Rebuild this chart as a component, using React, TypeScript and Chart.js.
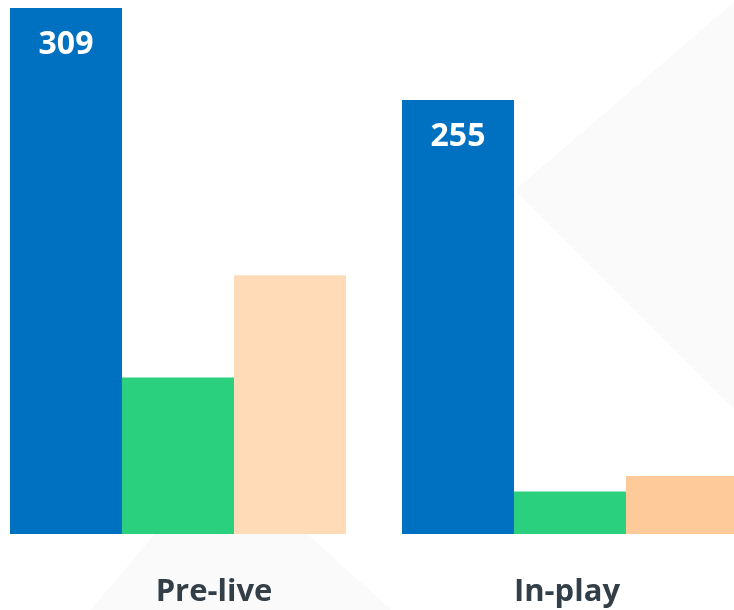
import React, { useEffect, useRef } from "react";
import { Chart, registerables } from "chart.js";

Chart.register(...registerables);

const categories = ["Pre-live", "In-play"];
const seriesBlue = [309, 255];
const seriesGreen = [92, 25];
const seriesPeach = [152, 34];
const peachColors = ["#FFDBB8", "#FFCA99"];
const labelNudge = [36, -3];

const FONT = "'Open Sans', 'Liberation Sans', sans-serif";

export default function App() {
  const ref = useRef<HTMLCanvasElement | null>(null);

  useEffect(() => {
    if (!ref.current) return;
    const watermark = {
      id: "watermark",
      beforeDatasetsDraw(chart: any) {
        const ctx = chart.ctx;
        const ox = 18;
        ctx.save();
        ctx.fillStyle = "#FAFAFA";
        ctx.beginPath();
        ctx.moveTo(742 + ox, -5);
        ctx.lineTo(515 + ox, 190);
        ctx.lineTo(745 + ox, 420);
        ctx.closePath();
        ctx.fill();
        ctx.beginPath();
        ctx.moveTo(221 + ox, 456);
        ctx.lineTo(397 + ox, 615);
        ctx.lineTo(86 + ox, 615);
        ctx.closePath();
        ctx.fill();
        ctx.restore();
      },
    };
    const labels = {
      id: "labels",
      afterDatasetsDraw(chart: any) {
        const ctx = chart.ctx;
        ctx.save();
        const meta = chart.getDatasetMeta(0);
        ctx.fillStyle = "#FFFFFF";
        ctx.font = `bold 32px ${FONT}`;
        ctx.textAlign = "center";
        ctx.textBaseline = "middle";
        meta.data.forEach((bar: any, i: number) => {
          ctx.fillText(String(seriesBlue[i]), bar.x, bar.y + 37);
        });
        const xs = chart.scales.x;
        ctx.fillStyle = "#333F48";
        ctx.font = `bold 31px ${FONT}`;
        categories.forEach((c, i) => {
          ctx.fillText(c, xs.getPixelForValue(i) + labelNudge[i], chart.chartArea.bottom + 58);
        });
        ctx.restore();
      },
    };
    const chart = new Chart(ref.current, {
      type: "bar",
      data: {
        labels: categories,
        datasets: [
          { data: seriesBlue, backgroundColor: "#0070C0" },
          { data: seriesGreen, backgroundColor: "#2AD07E" },
          { data: seriesPeach, backgroundColor: peachColors },
        ],
      },
      options: {
        animation: false,
        responsive: false,
        maintainAspectRatio: false,
        layout: { padding: { left: 0, right: 0, top: 0, bottom: 76 } },
        datasets: {
          bar: { barPercentage: 1, categoryPercentage: 336 / 392 },
        },
        plugins: {
          legend: { display: false },
          tooltip: { enabled: false },
          title: { display: false },
        },
        scales: {
          x: { display: false },
          y: { display: false, min: 0, max: 313.7 },
        },
      },
      plugins: [watermark, labels],
    });
    return () => chart.destroy();
  }, []);

  return (
    <div
      style={{
        position: "fixed",
        left: 0,
        top: 0,
        width: 734,
        height: 610,
        overflow: "hidden",
        background: "#FFFFFF",
      }}
    >
      <canvas
        ref={ref}
        width={784}
        height={610}
        style={{ position: "absolute", left: -18, top: 0, width: 784, height: 610 }}
      />
    </div>
  );
}
